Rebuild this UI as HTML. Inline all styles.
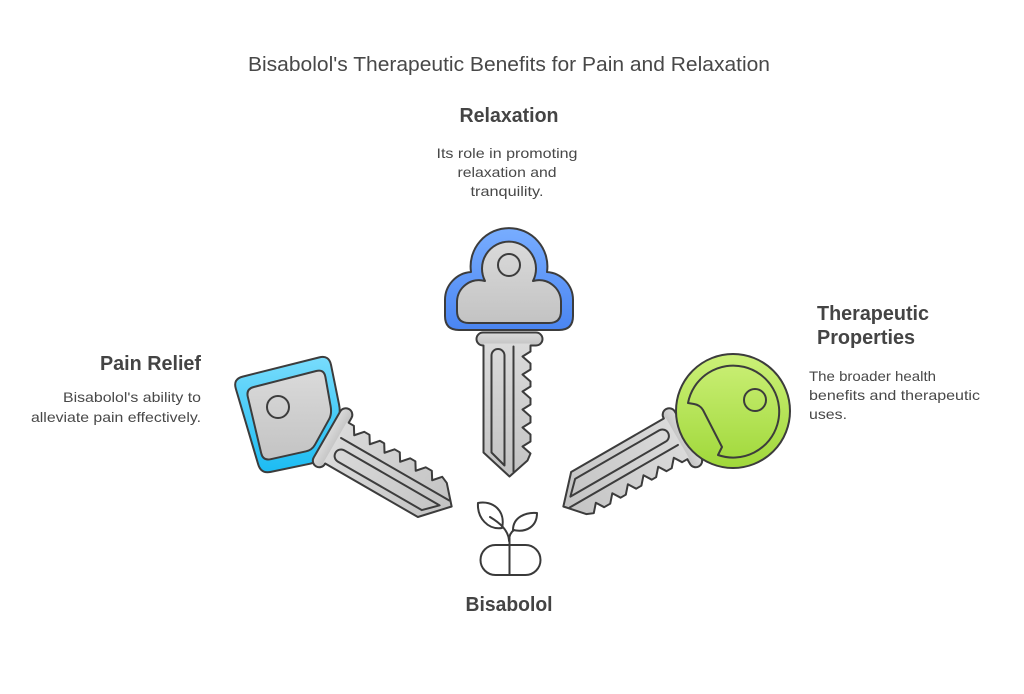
<!DOCTYPE html>
<html>
<head>
<meta charset="utf-8">
<style>
  html,body{margin:0;padding:0;background:#fff;}
  svg{display:block;}
  text{font-family:"Liberation Sans",Arial,sans-serif;}
</style>
</head>
<body>
<svg width="1024" height="694" viewBox="0 0 1024 694" xmlns="http://www.w3.org/2000/svg">
  <defs>
    <linearGradient id="gray" x1="0" y1="0" x2="0" y2="1">
      <stop offset="0" stop-color="#dadada"/>
      <stop offset="1" stop-color="#c3c3c3"/>
    </linearGradient>
    <linearGradient id="blue" x1="0" y1="0" x2="0" y2="1">
      <stop offset="0" stop-color="#78adff"/>
      <stop offset="1" stop-color="#4a85f2"/>
    </linearGradient>
    <linearGradient id="cyan" x1="0" y1="0" x2="0" y2="1">
      <stop offset="0" stop-color="#78dcfc"/>
      <stop offset="1" stop-color="#1cbcf3"/>
    </linearGradient>
    <linearGradient id="green" x1="0" y1="0" x2="0" y2="1">
      <stop offset="0" stop-color="#ccf078"/>
      <stop offset="1" stop-color="#a0d83a"/>
    </linearGradient>
  </defs>

  <rect width="1024" height="694" fill="#fff"/>

  <!-- Title -->
  <text x="509" y="71" font-size="20" fill="#484848" text-anchor="middle" textLength="522" lengthAdjust="spacingAndGlyphs">Bisabolol's Therapeutic Benefits for Pain and Relaxation</text>

  <!-- Relaxation -->
  <text x="509" y="122" font-size="20" font-weight="bold" fill="#444" text-anchor="middle" textLength="99" lengthAdjust="spacingAndGlyphs">Relaxation</text>
  <g font-size="14" fill="#484848" text-anchor="middle">
    <text x="507" y="158" textLength="141" lengthAdjust="spacingAndGlyphs">Its role in promoting</text>
    <text x="507" y="177" textLength="99" lengthAdjust="spacingAndGlyphs">relaxation and</text>
    <text x="507" y="196" textLength="73" lengthAdjust="spacingAndGlyphs">tranquility.</text>
  </g>

  <!-- Pain Relief -->
  <text x="201" y="370" font-size="20" font-weight="bold" fill="#444" text-anchor="end" textLength="101" lengthAdjust="spacingAndGlyphs">Pain Relief</text>
  <g font-size="14" fill="#484848" text-anchor="end">
    <text x="201" y="402" textLength="138" lengthAdjust="spacingAndGlyphs">Bisabolol's ability to</text>
    <text x="201" y="422" textLength="170" lengthAdjust="spacingAndGlyphs">alleviate pain effectively.</text>
  </g>

  <!-- Therapeutic Properties -->
  <g font-size="20" font-weight="bold" fill="#444">
    <text x="817" y="320" textLength="112" lengthAdjust="spacingAndGlyphs">Therapeutic</text>
    <text x="817" y="344" textLength="98" lengthAdjust="spacingAndGlyphs">Properties</text>
  </g>
  <g font-size="14" fill="#484848">
    <text x="809" y="381" textLength="127" lengthAdjust="spacingAndGlyphs">The broader health</text>
    <text x="809" y="400" textLength="171" lengthAdjust="spacingAndGlyphs">benefits and therapeutic</text>
    <text x="809" y="419" textLength="38" lengthAdjust="spacingAndGlyphs">uses.</text>
  </g>

  <!-- Bisabolol -->
  <text x="509" y="611" font-size="20" font-weight="bold" fill="#444" text-anchor="middle" textLength="87" lengthAdjust="spacingAndGlyphs">Bisabolol</text>

  <!-- ===== Central key ===== -->
  <g stroke="#3c3c3c" stroke-width="2" stroke-linejoin="round" stroke-linecap="round">
    <path d="M 471,272 A 38.4 38.4 0 1 1 547,272 A 28 28 0 0 1 573,300 L 573,316 Q 573,330 559,330 L 459,330 Q 445,330 445,316 L 445,300 A 28 28 0 0 1 471,272 Z" fill="url(#blue)"/>
    <path d="M 485,281 A 27 27 0 1 1 533,281 A 22 22 0 0 1 561,301 L 561,311 Q 561,323 549,323 L 469,323 Q 457,323 457,311 L 457,301 A 22 22 0 0 1 485,281 Z" fill="url(#gray)"/>
    <circle cx="509" cy="265" r="11" fill="none"/>
    <g transform="translate(509.5,339.5)">
      <rect x="-33" y="-7" width="66" height="13" rx="6.5" fill="url(#gray)"/>
      <path d="M -26,4 L -26,113 L 0,137 L 18,121 L 21,114 L 13,107 L 21,102 L 21,95 L 13,88 L 21,83 L 21,77 L 13,70 L 21,65 L 21,59 L 13,52 L 21,47 L 21,42 L 13,35 L 21,30 L 21,24 L 13,17 L 21,12 L 21,4 Z" fill="url(#gray)" stroke="none"/>
      <path d="M -26,6 L -26,113 L 0,137 L 18,121 L 21,114 L 13,107 L 21,102 L 21,95 L 13,88 L 21,83 L 21,77 L 13,70 L 21,65 L 21,59 L 13,52 L 21,47 L 21,42 L 13,35 L 21,30 L 21,24 L 13,17 L 21,12 L 21,6" fill="none"/>
      <path d="M -18,16 A 6.5 6.5 0 0 1 -5,16 L -5,126 L -18,113 Z" fill="none"/>
      <path d="M 4,7 L 4,132" fill="none"/>
    </g>
  </g>

  <!-- ===== Left key ===== -->
  <g stroke="#3c3c3c" stroke-width="2" stroke-linejoin="round" stroke-linecap="round">
    <path d="M 242.7,376.6 L 319.3,357.4 Q 329,355 331,364.8 L 339,404.2 Q 341,414 337.5,421.2 L 321.4,454.8 Q 318,462 310.2,463.7 L 270.8,471.9 Q 261,474 258.2,464.4 L 235.8,388.6 Q 233,379 242.7,376.6 Z" fill="url(#cyan)"/>
    <path d="M 253.8,387 L 316.2,371 Q 324,369 325.4,376.9 L 330.6,406.1 Q 332,414 329.1,419.2 L 314.9,444.8 Q 312,450 306.1,451.3 L 270.8,459.2 Q 263,461 261.2,453.2 L 247.8,396.8 Q 246,389 253.8,387 Z" fill="url(#gray)"/>
    <circle cx="278" cy="407" r="11" fill="none"/>
    <g transform="translate(333,438) rotate(-60)">
      <rect x="-33" y="-7" width="66" height="13" rx="6.5" fill="url(#gray)"/>
      <path d="M -26,4 L -26,113 L 0,137 L 18,121 L 21,114 L 13,107 L 21,102 L 21,95 L 13,88 L 21,83 L 21,77 L 13,70 L 21,65 L 21,59 L 13,52 L 21,47 L 21,42 L 13,35 L 21,30 L 21,24 L 13,17 L 21,12 L 21,4 Z" fill="url(#gray)" stroke="none"/>
      <path d="M -26,6 L -26,113 L 0,137 L 18,121 L 21,114 L 13,107 L 21,102 L 21,95 L 13,88 L 21,83 L 21,77 L 13,70 L 21,65 L 21,59 L 13,52 L 21,47 L 21,42 L 13,35 L 21,30 L 21,24 L 13,17 L 21,12 L 21,6" fill="none"/>
      <path d="M -18,16 A 6.5 6.5 0 0 1 -5,16 L -5,126 L -18,113 Z" fill="none"/>
      <path d="M 4,7 L 4,132" fill="none"/>
    </g>
  </g>

  <!-- ===== Right key ===== -->
  <g stroke="#3c3c3c" stroke-width="2" stroke-linejoin="round" stroke-linecap="round">
    <g transform="translate(682,438) rotate(60)">
      <rect x="-33" y="-7" width="66" height="13" rx="6.5" fill="url(#gray)"/>
      <path d="M -26,4 L -26,113 L 0,137 L 18,121 L 21,114 L 13,107 L 21,102 L 21,95 L 13,88 L 21,83 L 21,77 L 13,70 L 21,65 L 21,59 L 13,52 L 21,47 L 21,42 L 13,35 L 21,30 L 21,24 L 13,17 L 21,12 L 21,4 Z" fill="url(#gray)" stroke="none"/>
      <path d="M -26,6 L -26,113 L 0,137 L 18,121 L 21,114 L 13,107 L 21,102 L 21,95 L 13,88 L 21,83 L 21,77 L 13,70 L 21,65 L 21,59 L 13,52 L 21,47 L 21,42 L 13,35 L 21,30 L 21,24 L 13,17 L 21,12 L 21,6" fill="none"/>
      <path d="M -18,16 A 6.5 6.5 0 0 1 -5,16 L -5,126 L -18,113 Z" fill="none"/>
      <path d="M 4,7 L 4,132" fill="none"/>
    </g>
    <circle cx="733" cy="411" r="57" fill="url(#green)"/>
    <path d="M 688,403 A 46 46 0 1 1 718,455 L 722,447 L 703,410 Q 700,405 694,404 Z" fill="none"/>
    <circle cx="755" cy="400" r="11" fill="none"/>
  </g>

  <!-- ===== Bisabolol icon ===== -->
  <g fill="none" stroke="#3a3a3a" stroke-width="2" stroke-linejoin="round" stroke-linecap="round">
    <path d="M 478,503 C 493,500 506,511 502,528 C 488,530 477,518 478,503 Z"/>
    <path d="M 490,517 C 500,523 508,530 509,540"/>
    <path d="M 513,530 C 513,517 526,512 537,513 C 537,526 527,533 513,530 Z"/>
    <path d="M 509,541 C 509,536 511,532 514,530"/>
    <rect x="480.5" y="545" width="60" height="30" rx="15"/>
    <path d="M 509.5,538 L 509.5,575"/>
  </g>
</svg>
</body>
</html>
